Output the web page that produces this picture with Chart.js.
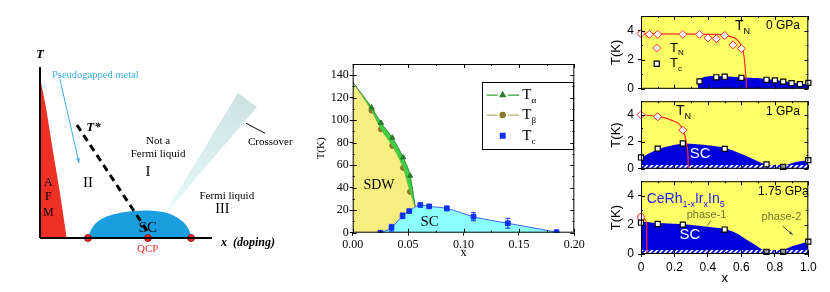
<!DOCTYPE html>
<html>
<head>
<meta charset="utf-8">
<script src="https://cdn.jsdelivr.net/npm/chart.js@4.4.1/dist/chart.umd.min.js"></script>
<style>
  body { margin: 0; background: #fff; }
  #wrap { position: relative; width: 830px; height: 292px; overflow: hidden; }
  canvas { position: absolute; }
</style>
</head>
<body>
<div id="wrap">
  <canvas id="schematic" width="300" height="292" style="left:0;top:0"></canvas>
  <canvas id="pnictide" width="310" height="242" style="left:280px;top:50px"></canvas>
  <canvas id="p0" width="240" height="100" style="left:590px;top:0"></canvas>
  <canvas id="p1" width="240" height="90" style="left:590px;top:90px"></canvas>
  <canvas id="p2" width="240" height="122" style="left:590px;top:170px"></canvas>
</div>
<script>
// ---- left: schematic phase diagram (arbitrary units) ----
const afmX = [0, 2.9, 7.7, 11.6, 15.5];
const afmY = [93.6, 79.4, 49.9, 26.3, 0];
const domeX = [27.9, 30.3, 34.9, 43.6, 55.3, 66.9, 75.6, 82.6, 86.7, 87.9];
const domeY = [0, 5.8, 10.5, 14.0, 15.8, 15.8, 14.0, 9.9, 4.7, 0];
const tStarX = [21.5, 62.8];
const tStarY = [66.1, 3.5];
const qcpX = [27.9, 62.8, 87.9];
const qcpY = [0, 0, 0];
const wedgeX = [71.0, 115.2, 126.3, 71.0];
const wedgeY = [11.7, 84.8, 76.6, 11.7];

// ---- middle: T vs x ----
const tabX = [0, 0.017, 0.0255, 0.0357, 0.0455, 0.0518, 0.0565];
const tAlpha = [134, 111.3, 97.7, 84.4, 66.9, 50.6, 23];
const tBeta = [134, 108.6, 92, 77.3, 57.7, 36.4, 23];
const tcX = [0.025, 0.035, 0.045, 0.051, 0.061, 0.069, 0.085, 0.109, 0.140, 0.184];
const tcY = [0, 4.4, 15, 19.2, 24.6, 23.4, 21.6, 14.2, 8.4, 0.5];
const tcErr = [0, 3, 2.5, 0, 0, 0, 2, 3.6, 4.4, 0];

// ---- right: CeRh1-xIrxIn5 at 0, 1, 1.75 GPa ----
const tn0X = [0, 0.05, 0.1, 0.25, 0.35, 0.4, 0.45, 0.5, 0.55, 0.6];
const tn0Y = [3.79, 3.74, 3.74, 3.74, 3.74, 3.5, 3.44, 3.66, 3.02, 2.76];
const tn0FitX = [0, 0.45, 0.53, 0.59, 0.615, 0.627, 0.631];
const tn0FitY = [3.78, 3.74, 3.6, 3.15, 2.3, 0.8, 0];
const tc0X = [0.35, 0.45, 0.5, 0.6, 0.75, 0.8, 0.85, 0.9, 0.95, 1.0];
const tc0Y = [0.51, 0.79, 0.83, 0.75, 0.62, 0.58, 0.49, 0.39, 0.32, 0.41];
const sc0X = [0.339, 0.341, 0.37, 0.42, 0.5, 0.6, 0.75, 0.85, 0.92, 1.0];
const sc0Y = [0, 0.6, 0.78, 0.88, 0.86, 0.79, 0.68, 0.53, 0.4, 0.32];

const tn1X = [0, 0.1, 0.25];
const tn1Y = [4.0, 3.85, 2.86];
const tn1FitX = [0, 0.1, 0.18, 0.25, 0.273, 0.281, 0.283];
const tn1FitY = [4.0, 3.86, 3.6, 2.88, 1.8, 0.9, 0];
const tc1X = [0, 0.1, 0.25, 0.5, 0.75, 0.85, 1.0];
const tc1Y = [0.84, 1.49, 1.87, 1.47, 0.33, 0.15, 0.64];
const sc1aX = [0, 0.094, 0.173, 0.257, 0.353, 0.502, 0.612, 0.711, 0.781];
const sc1aY = [0.81, 1.41, 1.69, 1.85, 1.80, 1.54, 1.03, 0.48, 0.15];
const sc1bX = [0.841, 0.89, 0.95, 1.0];
const sc1bY = [0.15, 0.37, 0.55, 0.64];

const tn2X = [0];
const tn2Y = [2.53];
const tn2FitX = [0, 0.025, 0.034, 0.035];
const tn2FitY = [2.53, 2.35, 2.0, 0];
const tc2X = [0, 0.1, 0.25, 0.5, 0.75, 0.85, 1.0];
const tc2Y = [2.15, 2.06, 2.02, 1.68, 0.15, 0.15, 0.85];
const sc2aX = [0, 0.1, 0.25, 0.41, 0.5, 0.57, 0.63, 0.69, 0.73, 0.751];
const sc2aY = [2.21, 2.13, 2.04, 1.85, 1.70, 1.43, 1.0, 0.57, 0.26, 0];
const sc2bX = [0.84, 0.85, 0.89, 0.95, 1.0];
const sc2bY = [0, 0.21, 0.47, 0.68, 0.85];
const hatchX = [0, 1];
const hatchY = [0.28, 0.28];

const SERIF = '"Liberation Serif", "DejaVu Serif", serif';
const SANS = '"Liberation Sans", Arial, sans-serif';

Chart.defaults.color = '#000';
Chart.defaults.animation = false;
Chart.defaults.responsive = false;
Chart.defaults.devicePixelRatio = 1;
Chart.defaults.plugins.legend.display = false;
Chart.defaults.plugins.tooltip.enabled = false;
Chart.defaults.elements.point.radius = 0;
Chart.defaults.elements.line.borderWidth = 1;

const pts = (xs, ys) => xs.map((x, i) => ({ x, y: ys[i] }));

// text with optional subscripts: parts = [[str, isSub], ...]
function rich(ctx, t, px, py) {
  const size = t.size || 12, fam = t.family || SANS;
  const pre = (t.style || '') + ' ' + (t.weight || '') + ' ';
  const mainF = pre + size + 'px ' + fam;
  const subF = pre + Math.round(size * 0.62) + 'px ' + fam;
  const parts = t.parts || [[t.text, 0]];
  let w = 0;
  parts.forEach(p => { ctx.font = p[1] ? subF : mainF; w += ctx.measureText(p[0]).width; });
  let x = t.align === 'center' ? px - w / 2 : px;
  ctx.textAlign = 'left';
  ctx.textBaseline = 'middle';
  ctx.fillStyle = t.color || '#000';
  parts.forEach(p => {
    ctx.font = p[1] ? subF : mainF;
    ctx.fillText(p[0], x, py + (p[1] ? size * 0.38 : 0));
    x += ctx.measureText(p[0]).width;
  });
}

// labels, arrows and extra drawing placed through the chart's scales
function marks(cfg) {
  return {
    id: 'marks',
    afterDatasetsDraw(chart) {
      const { ctx, scales: { x, y } } = chart;
      const px = v => x.getPixelForValue(v), py = v => y.getPixelForValue(v);
      ctx.save();
      (cfg.lines || []).forEach(l => {
        const x1 = px(l.p[0]), y1 = py(l.p[1]), x2 = px(l.p[2]), y2 = py(l.p[3]);
        ctx.strokeStyle = l.color;
        ctx.lineWidth = l.width || 1;
        ctx.beginPath(); ctx.moveTo(x1, y1); ctx.lineTo(x2, y2); ctx.stroke();
        if (l.head) {
          const a = Math.atan2(y2 - y1, x2 - x1), h = l.head;
          ctx.fillStyle = l.color;
          ctx.beginPath();
          ctx.moveTo(x2, y2);
          ctx.lineTo(x2 - h * Math.cos(a - 0.4), y2 - h * Math.sin(a - 0.4));
          ctx.lineTo(x2 - h * Math.cos(a + 0.4), y2 - h * Math.sin(a + 0.4));
          ctx.closePath(); ctx.fill();
        }
      });
      if (cfg.draw) cfg.draw(ctx, px, py);
      (cfg.texts || []).forEach(t => rich(ctx, t, px(t.x), py(t.y)));
      ctx.restore();
    }
  };
}

// boxed frame with inward major/minor ticks, optional background
function frame(xs, ys, bg) {
  return {
    id: 'frame',
    beforeDraw(chart) {
      if (!bg) return;
      const a = chart.chartArea, ctx = chart.ctx;
      ctx.save(); ctx.fillStyle = bg;
      ctx.fillRect(a.left, a.top, a.right - a.left, a.bottom - a.top);
      ctx.restore();
    },
    afterDatasetsDraw(chart) {
      const { ctx, chartArea: a, scales } = chart;
      ctx.save();
      ctx.strokeStyle = '#000';
      ctx.lineWidth = 1;
      ctx.strokeRect(a.left + 0.5, a.top + 0.5, a.right - a.left - 1, a.bottom - a.top - 1);
      ctx.beginPath();
      [['x', xs], ['y', ys]].forEach(([k, st]) => {
        const s = scales[k], n = Math.round((s.max - s.min) / st[0]);
        for (let i = 0; i <= n; i++) {
          const v = s.min + i * st[0], r = v / st[1];
          const len = Math.abs(r - Math.round(r)) < 1e-6 ? 4 : 2;
          const p = Math.round(s.getPixelForValue(v)) + 0.5;
          if (k === 'x') {
            ctx.moveTo(p, a.bottom); ctx.lineTo(p, a.bottom - len);
            ctx.moveTo(p, a.top); ctx.lineTo(p, a.top + len);
          } else {
            ctx.moveTo(a.left, p); ctx.lineTo(a.left + len, p);
            ctx.moveTo(a.right, p); ctx.lineTo(a.right - len, p);
          }
        }
      });
      ctx.stroke();
      ctx.restore();
    }
  };
}

const outTicks = { display: true, drawOnChartArea: false, drawTicks: true, tickLength: 3, color: '#000' };

// ================= left schematic =================
new Chart(document.getElementById('schematic'), {
  type: 'line',
  data: {
    datasets: [
      { data: pts(qcpX, qcpY), showLine: false, pointRadius: 3.5, pointBackgroundColor: '#e3262b',
        pointBorderColor: '#9b1b1b', pointBorderWidth: 1, clip: false },
      { data: pts(tStarX, tStarY), borderColor: '#000', borderWidth: 3, borderDash: [7, 5] },
      { data: pts(domeX, domeY), fill: 'origin', backgroundColor: '#1a9ee0', borderWidth: 0, tension: 0.4 },
      { data: pts(wedgeX, wedgeY), fill: 'shape', borderWidth: 0, clip: false,
        backgroundColor: c => {
          const ch = c.chart, a = ch.chartArea;
          if (!a) return '#d8eeee';
          const g = ch.ctx.createLinearGradient(0, a.bottom, 0, a.top);
          g.addColorStop(0, '#ecffff');
          g.addColorStop(1, '#c9dcdc');
          return g;
        } },
      { data: pts(afmX, afmY), fill: 'origin', backgroundColor: '#ee3124', borderWidth: 0,
        cubicInterpolationMode: 'monotone' }
    ]
  },
  options: {
    layout: { autoPadding: false, padding: { left: 40, top: 67, right: 28, bottom: 54 } },
    scales: {
      x: { type: 'linear', min: 0, max: 135, display: false },
      y: { type: 'linear', min: 0, max: 100, display: false }
    }
  },
  plugins: [marks({
    lines: [
      { p: [0, 100, 0, 0], color: '#000', width: 2 },
      { p: [0, 0, 100, 0], color: '#000', width: 2 },
      { p: [11.6, 93.0, 22.7, 43.9], color: '#3aaee0', width: 1, head: 5 },
      { p: [119.9, 67.1, 131.0, 61.2], color: '#000', width: 1 }
    ],
    texts: [
      { text: 'T', x: 0, y: 107, family: SERIF, style: 'italic', weight: 'bold', size: 13, align: 'center' },
      { text: 'Pseudogapped metal', x: 7.0, y: 95.3, family: SERIF, size: 10.5, color: '#3aaee0' },
      { text: 'T*', x: 31.1, y: 64.3, family: SERIF, style: 'italic', weight: 'bold', size: 13, align: 'center' },
      { text: 'Not a', x: 68.7, y: 56.7, family: SERIF, size: 11, align: 'center' },
      { text: 'Fermi liquid', x: 68.7, y: 49.1, family: SERIF, size: 11, align: 'center' },
      { text: 'I', x: 62.8, y: 38.6, family: SERIF, size: 15, align: 'center' },
      { text: 'II', x: 27.9, y: 32.2, family: SERIF, size: 15, align: 'center' },
      { text: 'A', x: 4.8, y: 32.2, family: SERIF, size: 12, align: 'center' },
      { text: 'F', x: 4.8, y: 24.2, family: SERIF, size: 12, align: 'center' },
      { text: 'M', x: 4.8, y: 15.0, family: SERIF, size: 12, align: 'center' },
      { text: 'Fermi liquid', x: 108.7, y: 24.6, family: SERIF, size: 11, align: 'center' },
      { text: 'III', x: 106.1, y: 16.8, family: SERIF, size: 14, align: 'center' },
      { text: 'SC', x: 62.7, y: 6.0, family: SERIF, size: 15, align: 'center' },
      { text: 'QCP', x: 62.7, y: -6.6, family: SERIF, size: 11, align: 'center', color: '#e8302a' },
      { text: 'x  (doping)', x: 105.3, y: -2.8, family: SERIF, style: 'italic', weight: 'bold', size: 12 },
      { text: 'Crossover', x: 121.0, y: 56.3, family: SERIF, size: 11 }
    ]
  })]
});

// ================= middle: T(K) vs x =================
const endless = c => (c.dataIndex === 0 || c.dataIndex === tabX.length - 1) ? 0 : 3;
new Chart(document.getElementById('pnictide'), {
  type: 'line',
  data: {
    datasets: [
      { data: pts(tcX, tcY), borderColor: '#3a66f0', fill: 'origin', backgroundColor: '#8cffff',
        cubicInterpolationMode: 'monotone', pointStyle: 'rect', pointRadius: 3.3,
        pointBackgroundColor: '#1030f0', pointBorderColor: '#1030f0' },
      { data: pts(tabX, tAlpha), borderColor: '#2f8f2f', fill: '+1', backgroundColor: '#3fcf3f',
        cubicInterpolationMode: 'monotone', pointStyle: 'triangle', pointRadius: endless,
        pointBackgroundColor: '#2a7a2a', pointBorderColor: '#2a7a2a' },
      { data: pts(tabX, tBeta), borderColor: '#a8a860', fill: 'origin', backgroundColor: '#f6ee80',
        cubicInterpolationMode: 'monotone', pointStyle: 'circle',
        pointRadius: c => endless(c) ? 2.6 : 0,
        pointBackgroundColor: '#8a7a30', pointBorderColor: '#8a7a30' }
    ]
  },
  options: {
    layout: { autoPadding: false, padding: { left: 31, top: 14, right: 15.7, bottom: 27.8 } },
    scales: {
      x: {
        type: 'linear', min: 0, max: 0.2,
        afterFit: s => { s.height = 31.5; },
        border: { display: false }, grid: outTicks,
        ticks: { stepSize: 0.05, padding: 2, font: { family: SERIF, size: 12 }, callback: v => v.toFixed(2) },
        title: { display: true, text: 'x', font: { family: SERIF, size: 12 } }
      },
      y: {
        type: 'linear', min: 0, max: 150,
        afterFit: s => { s.width = 41.7; },
        border: { display: false }, grid: outTicks,
        ticks: { stepSize: 20, includeBounds: false, padding: 1, font: { family: SERIF, size: 12 } },
        title: { display: true, text: 'T(K)', font: { family: SERIF, size: 11 } }
      }
    }
  },
  plugins: [frame([0.025, 0.05], [10, 20]), marks({
    texts: [
      { text: 'SDW', x: 0.0237, y: 42.4, family: SERIF, size: 14, align: 'center' },
      { text: 'SC', x: 0.0695, y: 9.8, family: SERIF, size: 15, align: 'center' },
      { parts: [['T', 0], ['α', 1]], x: 0.1531, y: 122.4, family: SERIF, size: 15 },
      { parts: [['T', 0], ['β', 1]], x: 0.1531, y: 104.6, family: SERIF, size: 15 },
      { parts: [['T', 0], ['c', 1]], x: 0.1531, y: 86.2, family: SERIF, size: 15 }
    ],
    draw(ctx, px, py) {
      // error bars on Tc
      ctx.strokeStyle = '#1030f0';
      ctx.lineWidth = 1;
      tcX.forEach((x, i) => {
        if (!tcErr[i]) return;
        const X = px(x), lo = py(tcY[i] - tcErr[i]), hi = py(tcY[i] + tcErr[i]);
        ctx.beginPath();
        ctx.moveTo(X, lo); ctx.lineTo(X, hi);
        ctx.moveTo(X - 2.5, lo); ctx.lineTo(X + 2.5, lo);
        ctx.moveTo(X - 2.5, hi); ctx.lineTo(X + 2.5, hi);
        ctx.stroke();
      });
      // legend box
      const l = px(0.1167), t = py(134), r = px(0.1988), b = py(74.4);
      ctx.strokeStyle = '#000';
      ctx.strokeRect(Math.round(l) + 0.5, Math.round(t) + 0.5, Math.round(r - l), Math.round(b - t));
      const rows = [
        { y: 122.4, line: '#3c9a3c', style: 'triangle', fill: '#2a7a2a', r: 3 },
        { y: 104.6, line: '#b4b46a', style: 'circle', fill: '#8a7a30', r: 2.6 },
        { y: 86.2, line: null, style: 'rect', fill: '#1030f0', r: 3.3 }
      ];
      const x0 = px(0.1209), xm = px(0.1354), x1 = px(0.1503);
      rows.forEach(row => {
        const Y = py(row.y);
        if (row.line) {
          ctx.strokeStyle = row.line;
          ctx.lineWidth = 1.2;
          ctx.beginPath();
          ctx.moveTo(x0, Y); ctx.lineTo(xm - 5, Y);
          ctx.moveTo(xm + 5, Y); ctx.lineTo(x1, Y);
          ctx.stroke();
        }
        ctx.fillStyle = row.fill;
        ctx.strokeStyle = row.fill;
        Chart.helpers.drawPoint(ctx, { pointStyle: row.style, radius: row.r, rotation: 0, borderWidth: 1 }, xm, Y);
      });
    }
  })]
});

// ================= right: three stacked panels =================
function hatch() {
  const c = document.createElement('canvas');
  c.width = 5; c.height = 5;
  const g = c.getContext('2d');
  g.fillStyle = '#fff'; g.fillRect(0, 0, 5, 5);
  g.strokeStyle = '#0000dd'; g.lineWidth = 1.8;
  g.beginPath();
  g.moveTo(-1, 6); g.lineTo(6, -1);
  g.moveTo(-1, 1); g.lineTo(1, -1);
  g.moveTo(4, 6); g.lineTo(6, 4);
  g.stroke();
  return g.createPattern(c, 'repeat');
}
const HATCH = hatch();
const YEL = '#ffff66', BLU = '#0000dd', RED = '#ff2a2a';

const squares = (xs, ys, grey) => ({
  data: pts(xs, ys), showLine: false, pointStyle: 'rect', pointRadius: 3.6,
  pointBackgroundColor: xs.map((_, i) => grey.includes(i) ? '#9a9a9a' : '#fff'),
  pointBorderColor: '#000', pointBorderWidth: 1.2, clip: false
});
const tnPoints = (xs, ys, style) => ({
  data: pts(xs, ys), showLine: false, pointStyle: style, pointRadius: style === 'circle' ? 3.5 : 4,
  pointBackgroundColor: '#fff', pointBorderColor: RED, pointBorderWidth: 1, clip: false
});
const tnFit = (xs, ys) => ({ data: pts(xs, ys), borderColor: RED, borderWidth: 1.2, cubicInterpolationMode: 'monotone' });
const scFill = (xs, ys) => ({ data: pts(xs, ys), fill: 'origin', backgroundColor: BLU, borderWidth: 0, tension: 0.4 });
const hatchBand = () => ({ data: pts(hatchX, hatchY), fill: 'origin', backgroundColor: HATCH, borderWidth: 0 });

function panel(id, datasets, pad, showX, mk) {
  return new Chart(document.getElementById(id), {
    type: 'line',
    data: { datasets },
    options: {
      layout: { autoPadding: false, padding: { left: 15, right: 21.7, top: pad[0], bottom: pad[1] } },
      scales: {
        x: {
          type: 'linear', min: 0, max: 1, display: showX,
          afterFit: s => { if (showX) s.height = 36.5; },
          border: { display: false }, grid: outTicks,
          ticks: { stepSize: 0.2, padding: 3, font: { family: SANS, size: 12 } },
          title: { display: true, text: 'x', font: { family: SANS, size: 13 } }
        },
        y: {
          type: 'linear', min: 0, max: 5,
          afterFit: s => { s.width = 36; },
          border: { display: false }, grid: outTicks,
          ticks: { stepSize: 2, includeBounds: false, padding: 4, font: { family: SANS, size: 12 } },
          title: { display: true, text: 'T(K)', font: { family: SANS, size: 13 } }
        }
      }
    },
    plugins: [frame([0.1, 0.2], [1, 2], YEL), marks(mk)]
  });
}

panel('p0', [
  squares(tc0X, tc0Y, []),
  tnPoints(tn0X, tn0Y, 'rectRot'),
  tnFit(tn0FitX, tn0FitY),
  scFill(sc0X, sc0Y)
], [16, 4.3], false, {
  texts: [
    { parts: [['T', 0], ['N', 1]], x: 0.562, y: 4.31, size: 14 },
    { text: '0 GPa', x: 0.849, y: 4.31, size: 12, align: 'center' },
    { parts: [['T', 0], ['N', 1]], x: 0.173, y: 2.80, size: 13 },
    { parts: [['T', 0], ['c', 1]], x: 0.173, y: 1.72, size: 13 }
  ],
  draw(ctx, px, py) {
    ctx.lineWidth = 1;
    ctx.fillStyle = '#fff'; ctx.strokeStyle = RED;
    Chart.helpers.drawPoint(ctx, { pointStyle: 'rectRot', radius: 4, rotation: 0, borderWidth: 1 }, px(0.094), py(2.80));
    ctx.strokeStyle = '#000'; ctx.lineWidth = 1.2;
    Chart.helpers.drawPoint(ctx, { pointStyle: 'rect', radius: 3.6, rotation: 0, borderWidth: 1.2 }, px(0.094), py(1.72));
  }
});

panel('p1', [
  squares(tc1X, tc1Y, [5]),
  tnPoints(tn1X, tn1Y, 'rectRot'),
  tnFit(tn1FitX, tn1FitY),
  hatchBand(),
  scFill(sc1aX, sc1aY),
  scFill(sc1bX, sc1bY)
], [6, 6], false, {
  texts: [
    { parts: [['T', 0], ['N', 1]], x: 0.209, y: 4.23, size: 14 },
    { text: '1 GPa', x: 0.849, y: 4.23, size: 12, align: 'center' },
    { text: 'SC', x: 0.353, y: 1.11, size: 15, align: 'center', color: '#fff' }
  ]
});

panel('p2', [
  squares(tc2X, tc2Y, [4, 5]),
  tnPoints(tn2X, tn2Y, 'circle'),
  tnFit(tn2FitX, tn2FitY),
  hatchBand(),
  scFill(sc2aX, sc2aY),
  scFill(sc2bX, sc2bY)
], [5.5, 1.5], true, {
  lines: [
    { p: [0.418, 2.31, 0.396, 1.94], color: '#707030', width: 1 },
    { p: [0.847, 1.91, 0.907, 1.32], color: '#505050', width: 1, head: 4 }
  ],
  texts: [
    { parts: [['CeRh', 0], ['1-x', 1], ['Ir', 0], ['x', 1], ['In', 0], ['5', 1]], x: 0.034, y: 3.76, size: 14, color: '#1a1aff' },
    { text: '1.75 GPa', x: 0.851, y: 4.25, size: 12, align: 'center' },
    { text: 'phase-1', x: 0.273, y: 2.66, size: 11, color: '#707030' },
    { text: 'phase-2', x: 0.721, y: 2.53, size: 11, color: '#707030' },
    { text: 'SC', x: 0.293, y: 1.32, size: 15, align: 'center', color: '#fff' }
  ]
});
</script>
</body>
</html>
